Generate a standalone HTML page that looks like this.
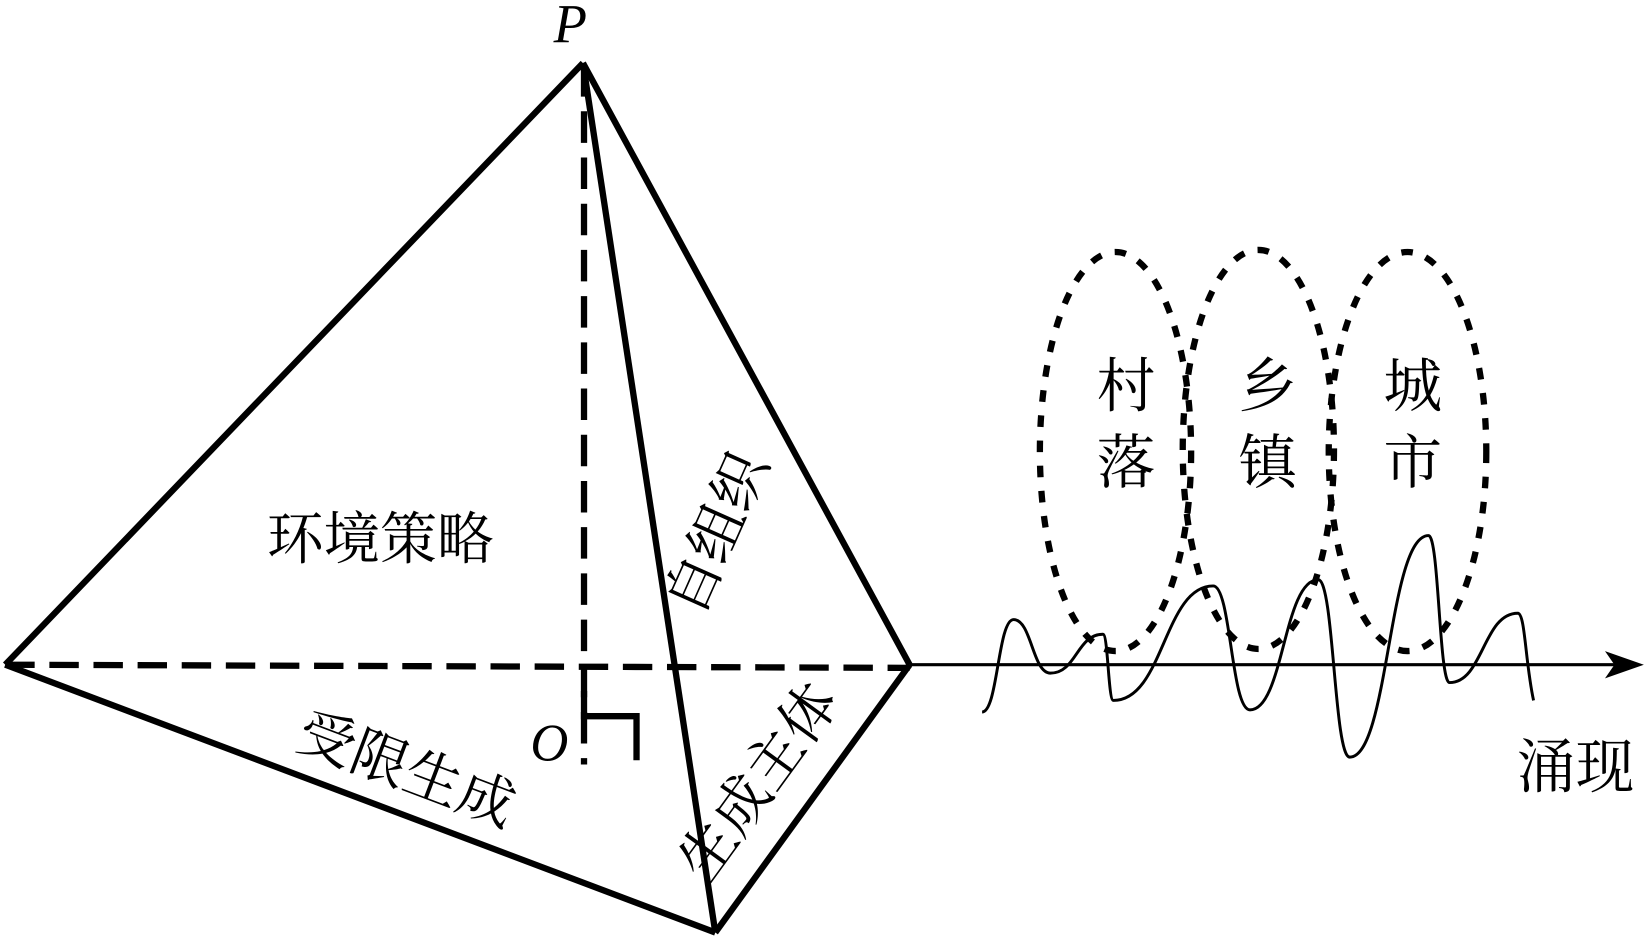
<!DOCTYPE html>
<html><head><meta charset="utf-8"><style>
html,body{margin:0;padding:0;background:#fff;width:1647px;height:943px;overflow:hidden}
svg{display:block}
text{font-family:"Liberation Serif","Noto Serif CJK SC",serif;fill:#000}
.lat{font-family:"Liberation Serif",serif}
</style></head><body>
<svg width="1647" height="943" viewBox="0 0 1568 898" preserveAspectRatio="none">
<g stroke="#000" fill="none" stroke-width="6">
<line x1="555" y1="60" x2="5" y2="633"/>
<line x1="555" y1="60" x2="866" y2="633"/>
<line x1="555" y1="60" x2="681" y2="888"/>
<line x1="5" y1="633" x2="681" y2="888"/>
<line x1="866" y1="633" x2="681" y2="888"/>
<line x1="5" y1="633" x2="866" y2="636" stroke-dasharray="28,14"/>
<line x1="556" y1="62" x2="556" y2="728" stroke-dasharray="30,14"/>
<polyline points="556,658 556,682 606,682 606,724"/>
<line x1="866" y1="633" x2="1540" y2="633" stroke-width="3"/>
</g>
<polygon points="1565,633 1528,620 1537,633 1528,646" fill="#000"/>
<path fill="none" stroke="#000" stroke-width="2.8" d="M935,678 C950,678 950,590 965,590 C982,590 983,641 1000,641 C1025,641 1025,604 1050,604 C1055,604 1055,667 1060,667 C1108,667 1108,558 1155,558 C1172,558 1172,676 1190,676 C1222,676 1222,552 1255,552 C1270,552 1270,721 1285,721 C1322,721 1322,510 1360,510 C1370,510 1370,650 1380,650 C1412,650 1412,584 1445,584 C1452,584 1452,630 1460,667"/>
<g fill="none" stroke="#000" stroke-width="6" stroke-dasharray="11,13">
<ellipse cx="1062" cy="430" rx="72" ry="190"/>
<ellipse cx="1198" cy="428" rx="72" ry="190"/>
<ellipse cx="1340" cy="430" rx="75" ry="190"/>
</g>
<text class="lat" x="543" y="40" font-size="52" font-style="italic" text-anchor="middle">P</text>
<text class="lat" x="523" y="724" font-size="50" font-style="italic" text-anchor="middle">O</text>
<text x="362" y="532" font-size="54" text-anchor="middle">环境策略</text>
<text transform="translate(385,738) rotate(20.7)" font-size="54" text-anchor="middle" dominant-baseline="middle">受限生成</text>
<text transform="translate(727,748) rotate(-54)" font-size="54" text-anchor="middle" dominant-baseline="middle">生成主体</text>
<text transform="translate(688,510) rotate(-66)" font-size="54" text-anchor="middle" dominant-baseline="middle">自组织</text>
<g font-size="56" text-anchor="middle">
<text x="1072" y="387">村</text><text x="1072" y="460">落</text>
<text x="1207" y="387">乡</text><text x="1207" y="460">镇</text>
<text x="1345" y="387">城</text><text x="1345" y="460">市</text>
<text x="1500" y="750">涌现</text>
</g>
</svg>
</body></html>
